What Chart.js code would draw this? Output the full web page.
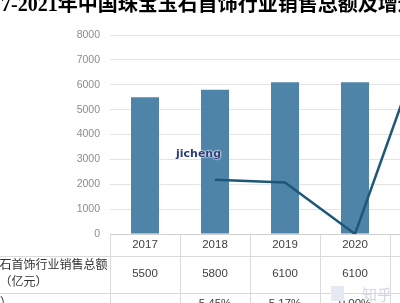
<!DOCTYPE html>
<html><head><meta charset="utf-8">
<script src="https://cdn.jsdelivr.net/npm/chart.js@4"></script>
<style>
html,body{margin:0;padding:0;width:400px;height:303px;overflow:hidden;background:#fff;}
#wrap{position:absolute;}
#wm{position:absolute;left:176px;top:147px;font:bold 11px "DejaVu Sans";color:#2a3c7c;text-shadow:0 0 2px #fff,0 0 2px #fff,0 0 1px #fff;}
#zh{position:absolute;left:362px;top:283px;font:15px "Noto Sans CJK SC";color:#d3d7e0;}
#zhbox{position:absolute;left:331px;top:286px;width:13px;height:15px;background:#e6e9f2;}
</style></head><body>
<div id="wrap"><canvas id="c"></canvas></div>
<div id="wm">jicheng</div>
<div id="zhbox"></div>
<div id="zh">知乎</div>
<script>
const categories = ['2017', '2018', '2019', '2020', '2021'];
const salesValues = [5500, 5800, 6100, 6100, 7300];
const growthRates = [null, 5.45, 5.17, 0.00, 19.7];
const salesAxisMax = 8000;
const salesAxisStep = 1000;
const growthAxisMax = 20;
const titleText = '2017-2021年中国珠宝玉石首饰行业销售总额及增速';
const salesRowLabel = ['中国珠宝玉石首饰行业销售总额', '（亿元）'];
const growthRowLabel = '增长率（%）';

const titleFont = {family: '"Liberation Serif", "Noto Sans CJK SC"', size: 20, weight: 'bold', lineHeight: 1.2};
const mctx = document.createElement('canvas').getContext('2d');
mctx.font = 'bold 20px ' + titleFont.family;
const prefixW = mctx.measureText('2017-2021').width;
const Lc = Math.round(58 - prefixW);
const Tc = -6;
const plotLeftPage = 110, plotRightPage = 460;
const Wy = plotLeftPage - Lc;
const Wc = plotRightPage + 10 - Lc;
const Hc = 330;
const wrap = document.getElementById('wrap');
wrap.style.left = Lc + 'px';
wrap.style.top = Tc + 'px';
const cv = document.getElementById('c');
cv.width = Wc; cv.height = Hc;
cv.style.width = Wc + 'px'; cv.style.height = Hc + 'px';

const tablePlugin = {
  id: 'dataTable',
  afterDraw(chart) {
    const {ctx, chartArea: {left, bottom}, scales: {x}} = chart;
    ctx.save();
    ctx.strokeStyle = '#dadada';
    ctx.lineWidth = 1;
    for (const dy of [22, 59]) {
      ctx.beginPath();
      ctx.moveTo(0, Math.round(bottom + dy) + 0.5);
      ctx.lineTo(chart.width, Math.round(bottom + dy) + 0.5);
      ctx.stroke();
    }
    ctx.textAlign = 'center';
    ctx.textBaseline = 'middle';
    ctx.fillStyle = '#404040';
    ctx.font = '11.5px "Liberation Sans"';
    categories.forEach((c, i) => {
      const px = x.getPixelForValue(i);
      ctx.fillText(c, px, bottom + 11);
      ctx.fillText(String(salesValues[i]), px, bottom + 40);
      if (growthRates[i] !== null) ctx.fillText(growthRates[i].toFixed(2) + '%', px, bottom + 70);
    });
    ctx.fillStyle = '#333';
    ctx.font = '12px "Noto Sans CJK SC"';
    ctx.fillText(salesRowLabel[0], left - 86.5, bottom + 30);
    ctx.fillText(salesRowLabel[1], left - 86.5, bottom + 47);
    ctx.textAlign = 'right';
    ctx.fillText(growthRowLabel, left - 98, bottom + 68);
    ctx.restore();
  }
};

new Chart(cv, {
  data: {
    labels: categories,
    datasets: [
      {type: 'line', data: growthRates, yAxisID: 'y1', borderColor: '#1e5878', borderWidth: 2.5,
       pointRadius: 0, fill: false, tension: 0, order: 0},
      {type: 'bar', data: salesValues, yAxisID: 'y', backgroundColor: '#4d84a8',
       barPercentage: 0.8, categoryPercentage: 0.5, order: 1}
    ]
  },
  options: {
    responsive: false,
    animation: false,
    devicePixelRatio: 1,
    layout: {padding: {left: 0, right: 10, top: 0, bottom: 0}},
    plugins: {
      legend: {display: false},
      tooltip: {enabled: false},
      title: {display: true, text: titleText, align: 'start', color: '#000', font: titleFont,
              padding: {top: 0, bottom: 17}}
    },
    scales: {
      x: {
        offset: true,
        grid: {offset: true, drawOnChartArea: false, drawTicks: true, tickLength: 90, color: '#dadada'},
        border: {display: true, color: '#d0d0d0'},
        ticks: {display: false}
      },
      y: {
        min: 0, max: salesAxisMax,
        ticks: {stepSize: salesAxisStep, color: '#8c8c8c', font: {family: '"Liberation Sans"', size: 10.5}, padding: 10,
                callback: v => String(v)},
        grid: {color: '#e4e4e4', drawTicks: false},
        border: {display: false},
        afterFit(s) { s.width = Wy; }
      },
      y1: {display: false, position: 'right', min: 0, max: growthAxisMax}
    }
  },
  plugins: [tablePlugin]
});
</script>
</body></html>
